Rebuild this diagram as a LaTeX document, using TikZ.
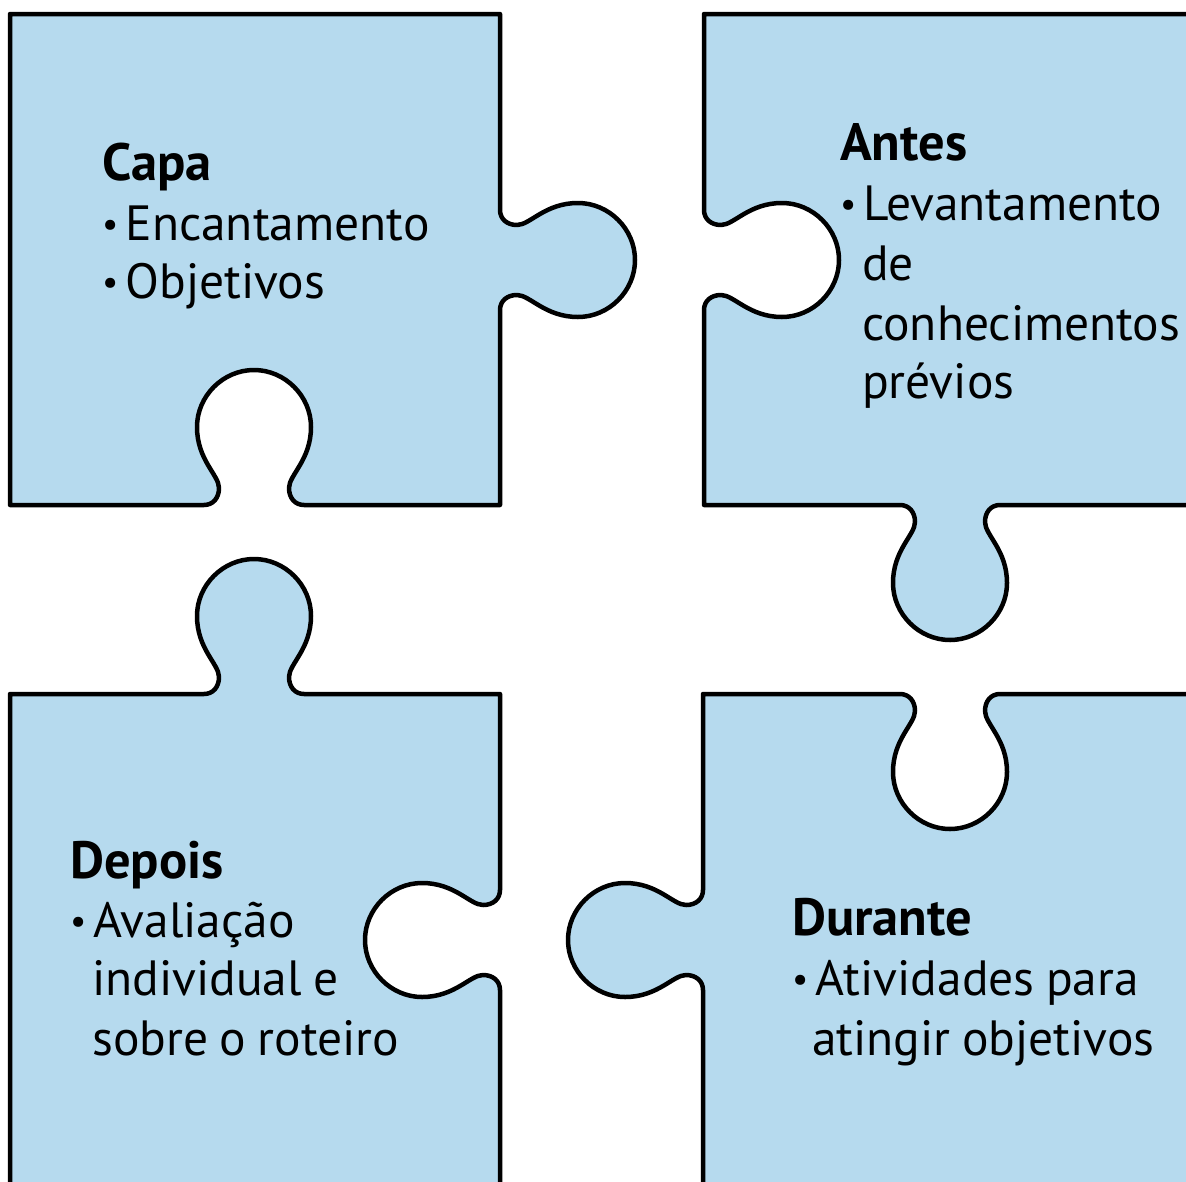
\documentclass[tikz,border=0pt]{standalone}
\usepackage{fontspec}
\setmainfont[WordSpace=0.87]{PT Sans}
\definecolor{piecefill}{RGB}{182,218,238}
\newcommand\bul{\raisebox{3.5pt}{\fontsize{36}{36}\selectfont •}\hspace{7pt}}
\tikzset{
  piece/.style={draw=black, line width=4.5pt, fill=piecefill, line join=round},
  txt/.style={inner sep=0pt, anchor=base west, font=\fontsize{49.5}{58}\selectfont},
  hdr/.style={txt, font=\fontsize{52.5}{58}\selectfont\bfseries},
  jig/.style n args={6}{insert path={
    -- ({#1+#5*(-50)},{#2+#6*(-50)})
    .. controls ({#1+#3*0+#5*(-41)},{#2+#4*0+#6*(-41)}) and ({#1+#3*7+#5*(-35)},{#2+#4*7+#6*(-35)}) .. ({#1+#3*17+#5*(-35)},{#2+#4*17+#6*(-35)})
    .. controls ({#1+#3*30+#5*(-35)},{#2+#4*30+#6*(-35)}) and ({#1+#3*45+#5*(-57)},{#2+#4*45+#6*(-57)}) .. ({#1+#3*78+#5*(-57)},{#2+#4*78+#6*(-57)})
    .. controls ({#1+#3*109+#5*(-57)},{#2+#4*109+#6*(-57)}) and ({#1+#3*135+#5*(-31)},{#2+#4*135+#6*(-31)}) .. ({#1+#3*135},{#2+#4*135})
    .. controls ({#1+#3*135+#5*31},{#2+#4*135+#6*31}) and ({#1+#3*109+#5*57},{#2+#4*109+#6*57}) .. ({#1+#3*78+#5*57},{#2+#4*78+#6*57})
    .. controls ({#1+#3*45+#5*57},{#2+#4*45+#6*57}) and ({#1+#3*30+#5*35},{#2+#4*30+#6*35}) .. ({#1+#3*17+#5*35},{#2+#4*17+#6*35})
    .. controls ({#1+#3*7+#5*35},{#2+#4*7+#6*35}) and ({#1+#3*0+#5*41},{#2+#4*0+#6*41}) .. ({#1+#5*50},{#2+#6*50})
  }}
}
\begin{document}
\begin{tikzpicture}[x=1pt, y=-1pt]
  \useasboundingbox (0,0) rectangle (1186,1181);
  \clip (0,0) rectangle (1186,1181);
  % top-left piece
  \draw[piece] (10,14) -- (500,14) [jig={500}{260}{1}{0}{0}{1}] -- (500,505)
     [jig={254}{505}{0}{-1}{-1}{0}] -- (10,505) -- cycle;
  % top-right piece
  \draw[piece] (704,14) -- (1210,14) -- (1210,505)
     [jig={950}{505}{0}{1}{-1}{0}] -- (704,505)
     [jig={704}{260}{1}{0}{0}{-1}] -- cycle;
  % bottom-left piece
  \draw[piece] (10,694) [jig={254}{694}{0}{-1}{1}{0}] -- (500,694)
     [jig={500}{940}{-1}{0}{0}{1}] -- (500,1210) -- (10,1210) -- cycle;
  % bottom-right piece
  \draw[piece] (703,694) [jig={950}{694}{0}{1}{1}{0}] -- (1210,694)
     -- (1210,1210) -- (703,1210)
     [jig={703}{940}{-1}{0}{0}{-1}] -- cycle;

  % texts
  \node[hdr] (capa) at (102,180) {Capa};
  \node[txt] (capa1) at (102,240) {\bul Encantamento};
  \node[txt] (capa2) at (102,298) {\bul Objetivos};

  \node[hdr] (antes) at (840,160) {Antes};
  \node[txt] (antes1) at (840,220) {\bul Levantamento};
  \node[txt] (antes2) at (862,280) {de};
  \node[txt] (antes3) at (862,340) {conhecimentos};
  \node[txt] (antes4) at (862,398) {prévios};

  \node[hdr] (depois) at (70,878) {Depois};
  \node[txt] (depois1) at (70,937) {\bul Avaliação};
  \node[txt] (depois2) at (92,995) {individual e};
  \node[txt] (depois3) at (92,1055) {sobre o roteiro};

  \node[hdr] (durante) at (792,935) {Durante};
  \node[txt] (durante1) at (792,995) {\bul Atividades para};
  \node[txt] (durante2) at (812,1055) {atingir objetivos};
\end{tikzpicture}
\end{document}
